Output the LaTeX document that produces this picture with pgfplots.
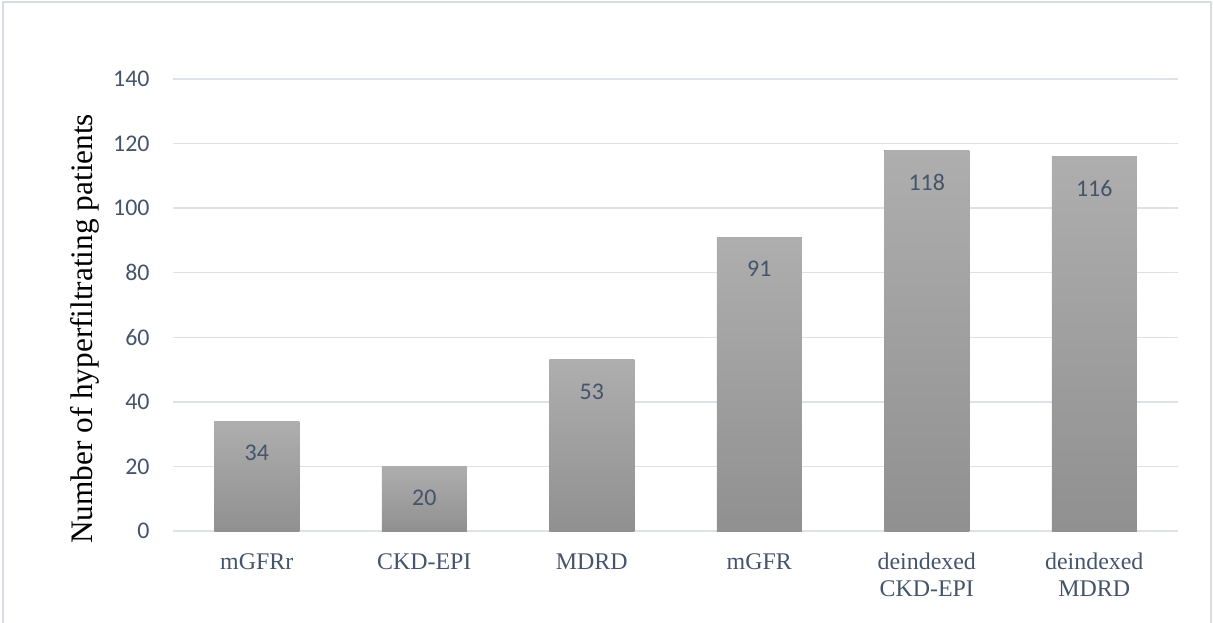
\documentclass[border=0pt]{standalone}
\usepackage{fontspec}
\setmainfont{Liberation Serif}
\newfontfamily\calfont{Carlito}
\usepackage{pgfplots}
\pgfplotsset{compat=1.18}
\definecolor{txt}{RGB}{68,84,106}
\definecolor{gridc}{RGB}{222,226,232}
\definecolor{framec}{RGB}{217,220,226}
\definecolor{bartop}{RGB}{174,174,174}
\definecolor{barbot}{RGB}{144,144,144}
\begin{document}
\begin{tikzpicture}[x=1bp,y=1bp]
\useasboundingbox (0,0) rectangle (606.5,311);
\draw[framec, line width=1bp] (1.5,-1) -- (1.5,310) -- (605.5,310) -- (605.5,-1);
\begin{axis}[
  at={(86.5bp,45.5bp)}, anchor=south west,
  width=502.5bp, height=226bp, scale only axis,
  xmin=-0.5, xmax=5.5, ymin=0, ymax=140,
  ytick={0,20,...,140},
  xtick={0,...,5},
  xticklabels={mGFRr, CKD-EPI, MDRD, mGFR, {deindexed\\CKD-EPI}, {deindexed\\MDRD}},
  ybar, bar width=42.5bp, bar shift=0pt,
  ymajorgrids, grid style={gridc, line width=0.75bp},
  axis line style={draw=none}, major tick length=0pt,
  /pgf/number format/assume math mode=true,
  yticklabel style={font=\calfont\fontsize{12}{14}\selectfont, text=txt, anchor=east, inner sep=0pt, xshift=-11.5bp},
  xticklabel style={font=\fontsize{12}{13.5}\selectfont, text=txt, align=center, anchor=north, inner sep=0pt, yshift=-11bp},
  ylabel={Number of hyperfiltrating patients},
  ylabel style={font=\fontsize{15.7}{18}\selectfont, text=black, at={(axis description cs:-0.0876,0.447)}, anchor=center},
  nodes near coords,
  every node near coord/.append style={font=\calfont\fontsize{12}{14}\selectfont, text=txt, anchor=north, inner sep=0pt, yshift=-11.75bp},
  every axis plot/.append style={draw=none, top color=bartop, bottom color=barbot},
]
\addplot coordinates {(0,34)};
\addplot coordinates {(1,20)};
\addplot coordinates {(2,53)};
\addplot coordinates {(3,91)};
\addplot coordinates {(4,118)};
\addplot coordinates {(5,116)};
\end{axis}
\end{tikzpicture}
\end{document}
